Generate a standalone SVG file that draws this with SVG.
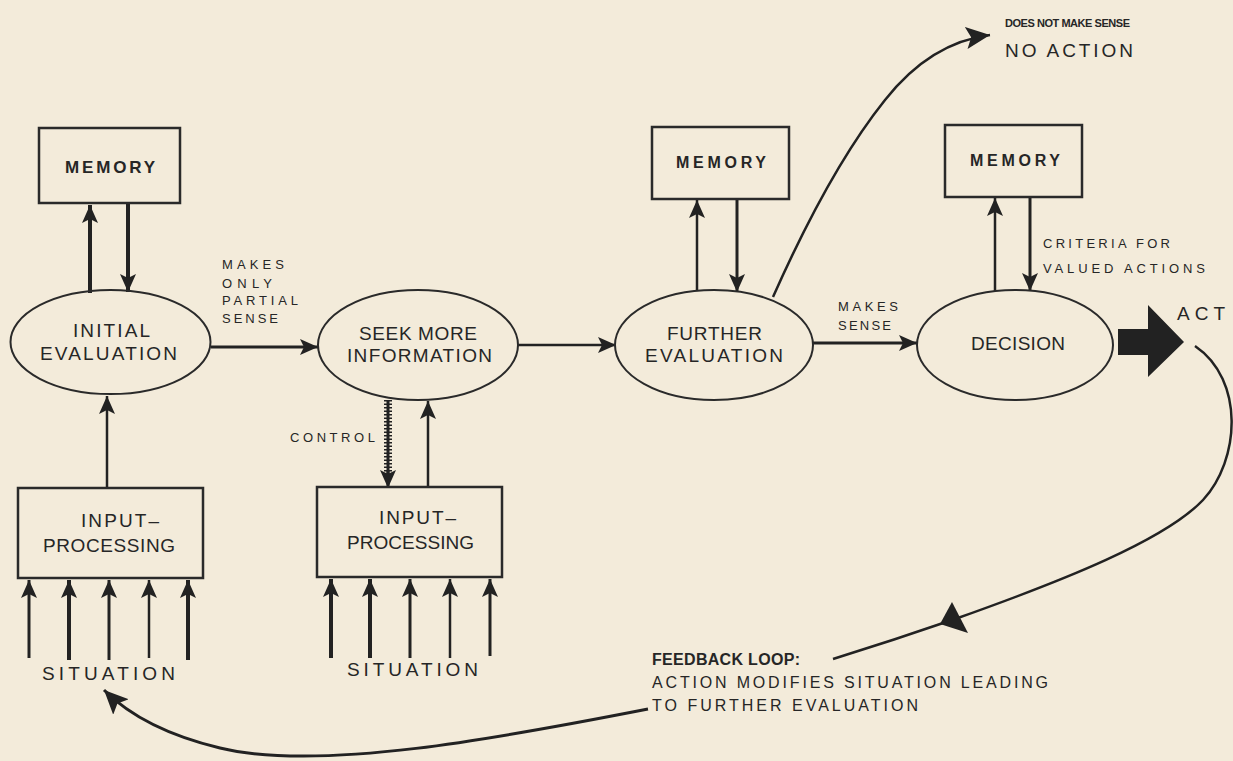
<svg xmlns="http://www.w3.org/2000/svg" width="1233" height="761" viewBox="0 0 1233 761">
<defs>
<style>
.bg{fill:#f3ebda}
.box{fill:none;stroke:#2a2a2a;stroke-width:2.5}
.ell{fill:none;stroke:#2a2a2a;stroke-width:2}
.ln{fill:none;stroke:#222;stroke-width:3}
.thk{fill:none;stroke:#222;stroke-width:4}
.thin{fill:none;stroke:#222;stroke-width:2.5}
.t{font-family:"Liberation Sans",Arial,sans-serif;fill:#262626;text-anchor:start}
.lg{font-size:19px}
.md{font-size:16px}
.sm{font-size:13px}
.xs{font-size:11px}
</style>
<marker id="ah" markerUnits="userSpaceOnUse" markerWidth="20" markerHeight="20" viewBox="0 0 20 20" refX="18" refY="10" orient="auto">
<path d="M0,2 L18,10 L0,18 L4,10 Z" fill="#222"/>
</marker>
<marker id="ahb" markerUnits="userSpaceOnUse" markerWidth="26" markerHeight="26" viewBox="0 0 26 26" refX="24" refY="13" orient="auto">
<path d="M0,2 L24,13 L0,24 L5,13 Z" fill="#222"/>
</marker>
</defs>
<rect class="bg" x="0" y="0" width="1233" height="761"/>

<g id="connectors">
<line class="thk" x1="90" y1="293" x2="90" y2="205" marker-end="url(#ah)"/>
<line class="thk" x1="128" y1="203" x2="128" y2="292" marker-end="url(#ah)"/>
<line class="thin" x1="107" y1="488" x2="107" y2="396" marker-end="url(#ah)"/>
<line class="ln" x1="29" y1="658" x2="29" y2="580" marker-end="url(#ah)"/>
<line class="thk" x1="69" y1="660" x2="69" y2="580" marker-end="url(#ah)"/>
<line class="ln" x1="109" y1="660" x2="109" y2="580" marker-end="url(#ah)"/>
<line class="thin" x1="149" y1="658" x2="149" y2="580" marker-end="url(#ah)"/>
<line class="thk" x1="188" y1="660" x2="188" y2="580" marker-end="url(#ah)"/>
<line class="thk" x1="331" y1="658" x2="331" y2="579" marker-end="url(#ah)"/>
<line class="thk" x1="370" y1="658" x2="370" y2="579" marker-end="url(#ah)"/>
<line class="ln" x1="410" y1="658" x2="410" y2="579" marker-end="url(#ah)"/>
<line class="thin" x1="450" y1="658" x2="450" y2="579" marker-end="url(#ah)"/>
<line class="ln" x1="490" y1="656" x2="490" y2="579" marker-end="url(#ah)"/>
<line x1="388" y1="400" x2="388" y2="474" stroke="#222" stroke-width="3"/>
<line x1="388" y1="400" x2="388" y2="474" stroke="#222" stroke-width="8" stroke-dasharray="1.5 2"/>
<line class="ln" x1="388" y1="470" x2="388" y2="488" marker-end="url(#ah)"/>
<line class="thin" x1="428" y1="488" x2="428" y2="401" marker-end="url(#ah)"/>
<line class="ln" x1="211" y1="347" x2="318" y2="347" marker-end="url(#ah)"/>
<line class="thin" x1="518" y1="345" x2="616" y2="345" marker-end="url(#ah)"/>
<line class="ln" x1="813" y1="343" x2="917" y2="343" marker-end="url(#ah)"/>
<line class="thin" x1="697" y1="291" x2="697" y2="200" marker-end="url(#ah)"/>
<line class="ln" x1="737" y1="199" x2="737" y2="292" marker-end="url(#ah)"/>
<line class="thin" x1="995" y1="291" x2="995" y2="198" marker-end="url(#ah)"/>
<line class="ln" x1="1030" y1="197" x2="1030" y2="291" marker-end="url(#ah)"/>
<path class="thin" d="M773,297 C805,225 845,150 885,100 C915,62 950,40 990,35" marker-end="url(#ahb)"/>
<polygon points="1118,329 1148,329 1148,305 1184,342 1148,377 1148,355 1118,355" fill="#222"/>
<path class="thin" d="M1195,346 C1245,380 1240,460 1203,500 C1165,540 1065,580 955,619 C900,638 862,650 833,659"/>
<polygon points="952,602 968,633 940,624" fill="#222"/>
<path class="ln" d="M648,709 C500,738 320,772 220,748 C170,736 130,716 104,690" marker-end="url(#ahb)"/>
</g>

<g id="memory1">
<rect class="box" x="39" y="128" width="141" height="75"/>
<text class="t" x="65" y="173" font-size="17" textLength="90" lengthAdjust="spacing" font-weight="bold">MEMORY</text>
</g>
<g id="initial-evaluation">
<ellipse class="ell" cx="110.5" cy="342" rx="100" ry="52"/>
<text class="t lg" x="73" y="337" textLength="77" lengthAdjust="spacing">INITIAL</text>
<text class="t lg" x="40" y="360" textLength="137" lengthAdjust="spacing">EVALUATION</text>
</g>
<g id="label-partial">
<text class="t sm" x="222" y="269" textLength="62" lengthAdjust="spacing">MAKES</text>
<text class="t sm" x="222" y="288" textLength="50" lengthAdjust="spacing">ONLY</text>
<text class="t sm" x="222" y="305" textLength="76" lengthAdjust="spacing">PARTIAL</text>
<text class="t sm" x="222" y="323" textLength="56" lengthAdjust="spacing">SENSE</text>
</g>
<g id="seek-more">
<ellipse class="ell" cx="418" cy="345" rx="100" ry="55"/>
<text class="t lg" x="359" y="340" textLength="118" lengthAdjust="spacing">SEEK MORE</text>
<text class="t lg" x="347" y="362" textLength="145" lengthAdjust="spacing">INFORMATION</text>
</g>
<g id="label-control">
<text class="t sm" x="290" y="442" textLength="85" lengthAdjust="spacing">CONTROL</text>
</g>
<g id="input1">
<rect class="box" x="18" y="488" width="185" height="90"/>
<text class="t lg" x="81" y="527" textLength="78" lengthAdjust="spacing">INPUT–</text>
<text class="t lg" x="43" y="552" textLength="132" lengthAdjust="spacing">PROCESSING</text>
</g>
<g id="situation1">
<text class="t lg" x="42" y="680" textLength="133" lengthAdjust="spacing">SITUATION</text>
</g>
<g id="input2">
<rect class="box" x="317" y="487" width="185" height="90"/>
<text class="t lg" x="379" y="524" textLength="77" lengthAdjust="spacing">INPUT–</text>
<text class="t lg" x="347" y="549" textLength="127" lengthAdjust="spacing">PROCESSING</text>
</g>
<g id="situation2">
<text class="t lg" x="347" y="676" textLength="131" lengthAdjust="spacing">SITUATION</text>
</g>
<g id="memory2">
<rect class="box" x="652" y="127" width="137" height="72"/>
<text class="t" x="676" y="168" font-size="16" textLength="90" lengthAdjust="spacing" font-weight="bold">MEMORY</text>
</g>
<g id="further-evaluation">
<ellipse class="ell" cx="714" cy="345" rx="99" ry="55"/>
<text class="t lg" x="667" y="340" textLength="95" lengthAdjust="spacing">FURTHER</text>
<text class="t lg" x="645" y="362" textLength="138" lengthAdjust="spacing">EVALUATION</text>
</g>
<g id="label-makes-sense">
<text class="t sm" x="838" y="311" textLength="60" lengthAdjust="spacing">MAKES</text>
<text class="t sm" x="838" y="330" textLength="53" lengthAdjust="spacing">SENSE</text>
</g>
<g id="memory3">
<rect class="box" x="945" y="125" width="137" height="72"/>
<text class="t" x="970" y="166" font-size="16" textLength="90" lengthAdjust="spacing" font-weight="bold">MEMORY</text>
</g>
<g id="label-criteria">
<text class="t sm" x="1043" y="248" textLength="127" lengthAdjust="spacing">CRITERIA FOR</text>
<text class="t sm" x="1043" y="273" textLength="162" lengthAdjust="spacing">VALUED ACTIONS</text>
</g>
<g id="decision">
<ellipse class="ell" cx="1015" cy="345" rx="98" ry="55"/>
<text class="t lg" x="971" y="350" textLength="94" lengthAdjust="spacing">DECISION</text>
</g>
<g id="act">
<text class="t lg" x="1177" y="320" textLength="48" lengthAdjust="spacing">ACT</text>
</g>
<g id="no-action">
<text class="t xs" x="1005" y="27" textLength="125" lengthAdjust="spacing" font-weight="bold">DOES NOT MAKE SENSE</text>
<text class="t lg" x="1005" y="57" textLength="128" lengthAdjust="spacing">NO ACTION</text>
</g>
<g id="feedback-label">
<text class="t md" x="652" y="665" textLength="148" lengthAdjust="spacing" font-weight="bold">FEEDBACK LOOP:</text>
<text class="t md" x="652" y="688" textLength="396" lengthAdjust="spacing">ACTION MODIFIES SITUATION LEADING</text>
<text class="t md" x="652" y="711" textLength="266" lengthAdjust="spacing">TO FURTHER EVALUATION</text>
</g>
</svg>
